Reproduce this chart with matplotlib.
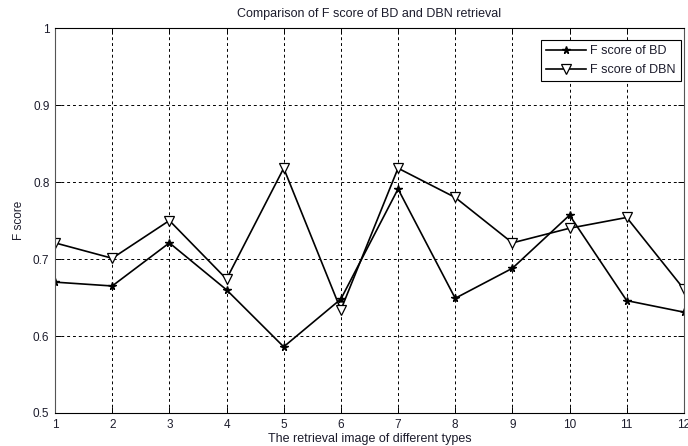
import matplotlib
matplotlib.use("Agg")
import matplotlib.pyplot as plt

types = list(range(1, 13))
f_bd = [0.670, 0.665, 0.721, 0.660, 0.586, 0.648, 0.791, 0.649, 0.688, 0.757, 0.646, 0.631]
f_dbn = [0.721, 0.701, 0.750, 0.674, 0.818, 0.634, 0.818, 0.780, 0.721, 0.740, 0.754, 0.661]

plt.rcParams['font.family'] = ['Liberation Sans', 'DejaVu Sans']
plt.rcParams['font.size'] = 9
txt = '#1c1c2c'

fig = plt.figure(figsize=(6.88, 4.46), dpi=100)
ax = fig.add_axes([0.080, 0.074, 0.914, 0.863])

ax.plot(types, f_bd, color='black', lw=1.2, marker='*', ms=5.5, label='F score of BD')
ax.plot(types, f_dbn, color='black', lw=1.2, marker='v', ms=7, mfc='white', mew=0.9,
        label='F score of DBN')

ax.set_xlim(1, 12)
ax.set_ylim(0.5, 1)
ax.set_xticks(types)
ax.set_yticks([0.5, 0.6, 0.7, 0.8, 0.9, 1])
ax.set_yticklabels(['0.5', '0.6', '0.7', '0.8', '0.9', '1'])
ax.grid(True, color='black', linestyle=(0, (3, 3)), linewidth=0.7)
ax.tick_params(direction='in', top=True, right=True, length=4, width=0.7,
               labelsize=8.5, labelcolor=txt, pad=4)
for s in ax.spines.values():
    s.set_linewidth(0.8)
ax.spines['left'].set_color('#555555')
ax.spines['right'].set_color('#555555')

ax.set_title('Comparison of F score of BD and DBN retrieval', fontsize=9, color=txt, pad=8)
ax.set_xlabel('The retrieval image of different types', fontsize=9, color=txt, labelpad=2)
ax.set_ylabel('F score', fontsize=8.5, color=txt, labelpad=6)

leg = ax.legend(loc='upper right', fancybox=False, edgecolor='black', framealpha=1,
                fontsize=9, handlelength=3.2, handletextpad=0.35, borderpad=0.4,
                labelspacing=0.55, borderaxespad=0, bbox_to_anchor=(0.995, 0.969))
leg.get_frame().set_linewidth(0.8)
for t in leg.get_texts():
    t.set_color(txt)

fig.savefig('out.png', dpi=100)
